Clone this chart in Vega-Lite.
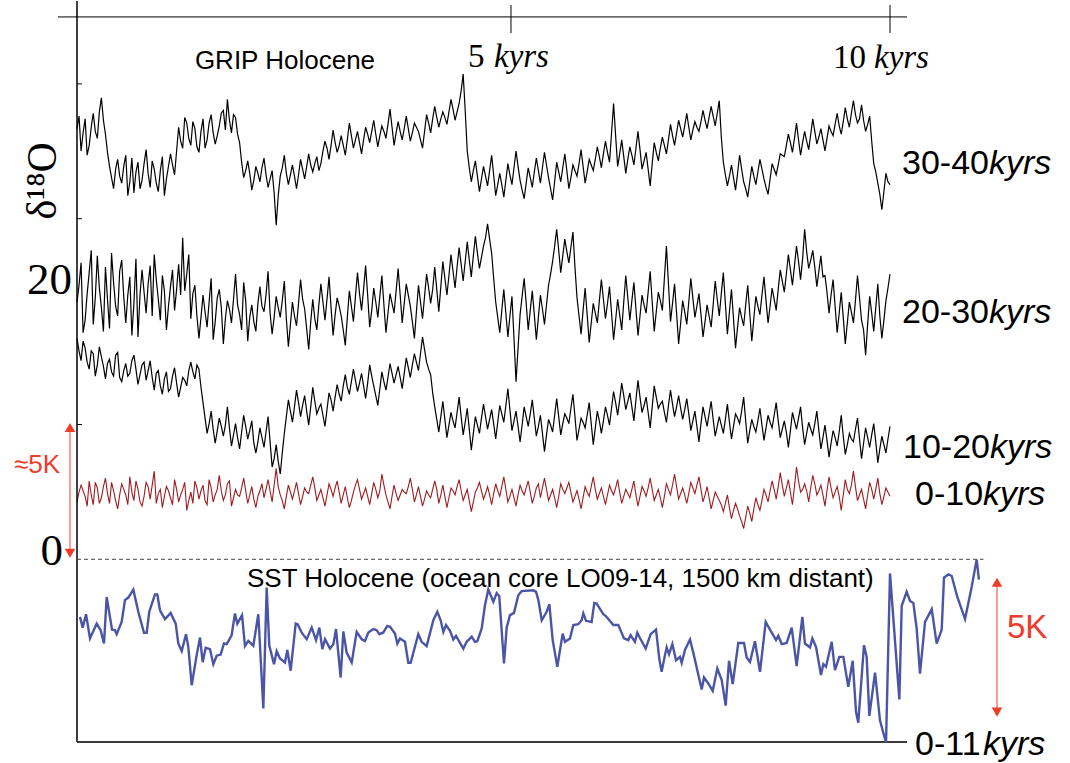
{
"$schema": "https://vega.github.io/schema/vega-lite/v6.json",
"width": 1070, "height": 763, "padding": 0,
"autosize": {"type": "fit", "contains": "padding"},
"background": "white",
"config": {"view": {"stroke": null}, "axis": {"disable": true}},
"datasets": {
"grip": [
{"t":0,"a":30.8,"b":18.4,"c":15.8,"d":4.1},{"t":0.05,"a":29.2,"b":21.2,"c":14.2,"d":5.3},{"t":0.1,"a":31.5,"b":17.1,"c":15.1,"d":4.5},{"t":0.15,"a":29.6,"b":20.5,"c":13.6,"d":5.6},{"t":0.2,"a":31.9,"b":16.8,"c":14.7,"d":3.9},{"t":0.25,"a":30.1,"b":21.7,"c":13.9,"d":5.1},{"t":0.3,"a":33.0,"b":18.0,"c":14.5,"d":4.4},{"t":0.35,"a":30.4,"b":20.9,"c":12.9,"d":5.8},{"t":0.4,"a":28.1,"b":16.5,"c":14.3,"d":4.0},{"t":0.45,"a":26.5,"b":19.8,"c":13.1,"d":4.9},
{"t":0.5,"a":28.6,"b":17.4,"c":14.8,"d":3.6},{"t":0.55,"a":26.9,"b":21.4,"c":12.7,"d":5.4},{"t":0.6,"a":28.9,"b":16.9,"c":14.0,"d":4.6},{"t":0.65,"a":27.0,"b":20.2,"c":13.3,"d":5.9},{"t":0.7,"a":26.2,"b":18.3,"c":14.6,"d":4.2},{"t":0.75,"a":28.4,"b":15.9,"c":12.5,"d":5.0},{"t":0.8,"a":27.1,"b":20.7,"c":13.9,"d":3.8},{"t":0.85,"a":29.3,"b":17.6,"c":12.8,"d":5.5},{"t":0.9,"a":26.6,"b":21.0,"c":14.2,"d":4.3},{"t":0.95,"a":27.9,"b":21.8,"c":12.1,"d":6.3},
{"t":1.0,"a":26.3,"b":18.6,"c":13.5,"d":4.7},{"t":1.05,"a":28.8,"b":20.3,"c":11.8,"d":3.7},{"t":1.1,"a":27.2,"b":16.4,"c":13.4,"d":5.2},{"t":1.15,"a":29.0,"b":19.5,"c":12.2,"d":4.4},{"t":1.2,"a":27.5,"b":17.8,"c":13.7,"d":5.7},{"t":1.25,"a":30.9,"b":21.1,"c":11.6,"d":4.1},{"t":1.3,"a":29.4,"b":23.0,"c":13.0,"d":5.0},{"t":1.35,"a":31.2,"b":20.4,"c":12.4,"d":3.5},{"t":1.4,"a":29.6,"b":17.2,"c":14.1,"d":4.8},{"t":1.45,"a":30.8,"b":19.6,"c":12.9,"d":5.6},
{"t":1.5,"a":29.1,"b":15.8,"c":13.6,"d":4.3},{"t":1.55,"a":31.5,"b":18.9,"c":11.2,"d":5.3},{"t":1.6,"a":30.0,"b":16.6,"c":9.0,"d":3.9},{"t":1.65,"a":31.8,"b":20.1,"c":10.6,"d":5.1},{"t":1.7,"a":29.7,"b":17.0,"c":8.3,"d":4.6},{"t":1.75,"a":31.0,"b":19.3,"c":10.1,"d":6.0},{"t":1.8,"a":32.1,"b":15.4,"c":8.8,"d":4.2},{"t":1.85,"a":32.9,"b":18.5,"c":10.9,"d":5.4},{"t":1.9,"a":30.5,"b":16.9,"c":8.1,"d":3.8},{"t":1.95,"a":31.6,"b":20.4,"c":9.7,"d":5.0},
{"t":2.0,"a":29.8,"b":17.5,"c":7.9,"d":4.5},{"t":2.05,"a":27.3,"b":19.8,"c":10.3,"d":5.8},{"t":2.1,"a":28.5,"b":15.6,"c":8.6,"d":4.0},{"t":2.15,"a":26.4,"b":18.2,"c":9.9,"d":5.2},{"t":2.2,"a":28.1,"b":16.3,"c":7.6,"d":3.7},{"t":2.25,"a":27.0,"b":19.5,"c":9.4,"d":4.9},{"t":2.3,"a":28.7,"b":17.7,"c":8.0,"d":4.4},{"t":2.35,"a":26.6,"b":20.6,"c":10.2,"d":5.7},{"t":2.4,"a":27.8,"b":16.1,"c":6.6,"d":4.1},{"t":2.45,"a":23.9,"b":18.8,"c":8.2,"d":6.5},
{"t":2.5,"a":27.4,"b":17.3,"c":6.1,"d":4.6},{"t":2.55,"a":28.9,"b":19.9,"c":9.0,"d":3.6},{"t":2.6,"a":26.8,"b":15.2,"c":11.4,"d":5.3},{"t":2.65,"a":28.2,"b":18.4,"c":9.8,"d":4.3},{"t":2.7,"a":26.5,"b":16.7,"c":12.1,"d":5.5},{"t":2.75,"a":28.6,"b":20.0,"c":10.2,"d":3.9},{"t":2.8,"a":27.2,"b":17.9,"c":11.7,"d":5.1},{"t":2.85,"a":29.0,"b":15.0,"c":9.6,"d":4.7},{"t":2.9,"a":27.7,"b":18.6,"c":12.3,"d":5.9},{"t":2.95,"a":28.8,"b":16.4,"c":10.4,"d":4.2},
{"t":3.0,"a":28.3,"b":19.7,"c":11.1,"d":5.0},{"t":3.05,"a":29.9,"b":17.1,"c":9.5,"d":3.8},{"t":3.1,"a":28.6,"b":20.2,"c":11.9,"d":5.4},{"t":3.15,"a":30.7,"b":16.0,"c":10.6,"d":4.5},{"t":3.2,"a":29.1,"b":18.7,"c":12.5,"d":5.6},{"t":3.25,"a":30.3,"b":17.4,"c":11.3,"d":4.0},{"t":3.3,"a":28.9,"b":15.3,"c":13.2,"d":5.2},{"t":3.35,"a":31.2,"b":19.2,"c":11.8,"d":3.7},{"t":3.4,"a":29.4,"b":17.0,"c":13.6,"d":4.8},{"t":3.45,"a":30.6,"b":20.5,"c":12.0,"d":5.7},
{"t":3.5,"a":29.0,"b":17.8,"c":13.3,"d":4.3},{"t":3.55,"a":30.9,"b":21.0,"c":11.5,"d":5.1},{"t":3.6,"a":29.8,"b":16.6,"c":13.9,"d":3.9},{"t":3.65,"a":31.4,"b":19.4,"c":12.4,"d":5.5},{"t":3.7,"a":29.5,"b":17.3,"c":11.0,"d":4.4},{"t":3.75,"a":31.0,"b":20.3,"c":13.4,"d":6.1},{"t":3.8,"a":30.1,"b":16.2,"c":12.1,"d":4.6},{"t":3.85,"a":32.2,"b":19.0,"c":14.0,"d":3.6},{"t":3.9,"a":29.6,"b":17.6,"c":12.6,"d":5.3},{"t":3.95,"a":31.3,"b":20.8,"c":13.8,"d":4.2},
{"t":4.0,"a":30.0,"b":16.9,"c":12.2,"d":5.0},{"t":4.05,"a":31.7,"b":19.7,"c":14.4,"d":4.7},{"t":4.1,"a":29.9,"b":18.1,"c":13.0,"d":5.8},{"t":4.15,"a":31.2,"b":15.8,"c":14.7,"d":4.1},{"t":4.2,"a":30.6,"b":19.6,"c":13.5,"d":5.2},{"t":4.25,"a":29.4,"b":17.2,"c":15.9,"d":3.8},{"t":4.3,"a":31.8,"b":20.4,"c":14.1,"d":4.9},{"t":4.35,"a":30.5,"b":18.3,"c":13.2,"d":4.4},{"t":4.4,"a":32.4,"b":20.9,"c":10.9,"d":5.6},{"t":4.45,"a":30.9,"b":17.7,"c":9.1,"d":4.0},
{"t":4.5,"a":32.0,"b":21.3,"c":11.3,"d":5.3},{"t":4.55,"a":31.1,"b":18.9,"c":8.7,"d":3.7},{"t":4.6,"a":32.9,"b":21.8,"c":10.5,"d":5.1},{"t":4.65,"a":31.4,"b":19.4,"c":9.4,"d":4.6},{"t":4.7,"a":32.6,"b":22.3,"c":11.6,"d":5.7},{"t":4.75,"a":34.7,"b":19.9,"c":8.9,"d":4.2},{"t":4.8,"a":29.2,"b":22.7,"c":10.8,"d":5.0},{"t":4.85,"a":27.0,"b":20.2,"c":7.8,"d":3.4},{"t":4.9,"a":28.5,"b":23.1,"c":10.2,"d":4.8},{"t":4.95,"a":26.3,"b":20.8,"c":9.0,"d":5.5},
{"t":5.0,"a":28.1,"b":22.4,"c":11.1,"d":4.3},{"t":5.05,"a":26.7,"b":24.0,"c":9.3,"d":5.2},{"t":5.1,"a":28.9,"b":21.9,"c":10.7,"d":3.9},{"t":5.15,"a":26.0,"b":18.4,"c":8.6,"d":5.4},{"t":5.2,"a":27.6,"b":16.2,"c":11.0,"d":4.5},{"t":5.25,"a":25.9,"b":19.3,"c":9.8,"d":5.9},{"t":5.3,"a":28.3,"b":15.9,"c":12.2,"d":4.1},{"t":5.35,"a":26.8,"b":18.8,"c":9.2,"d":5.0},{"t":5.4,"a":29.2,"b":12.7,"c":10.6,"d":3.8},{"t":5.45,"a":27.1,"b":17.5,"c":8.4,"d":5.3},
{"t":5.5,"a":25.8,"b":20.1,"c":10.9,"d":4.6},{"t":5.55,"a":28.0,"b":16.4,"c":9.5,"d":5.6},{"t":5.6,"a":26.6,"b":19.2,"c":11.4,"d":4.0},{"t":5.65,"a":28.7,"b":15.7,"c":8.8,"d":5.1},{"t":5.7,"a":26.9,"b":18.9,"c":10.3,"d":4.4},{"t":5.75,"a":29.1,"b":16.8,"c":7.7,"d":5.8},{"t":5.8,"a":27.3,"b":19.6,"c":10.0,"d":4.2},{"t":5.85,"a":25.7,"b":21.3,"c":9.1,"d":5.0},{"t":5.9,"a":28.4,"b":23.6,"c":11.5,"d":3.7},{"t":5.95,"a":27.0,"b":20.5,"c":8.9,"d":5.4},
{"t":6.0,"a":29.0,"b":22.9,"c":10.4,"d":4.7},{"t":6.05,"a":26.5,"b":21.2,"c":9.7,"d":5.5},{"t":6.1,"a":28.2,"b":23.4,"c":11.8,"d":4.1},{"t":6.15,"a":27.4,"b":18.7,"c":8.5,"d":4.9},{"t":6.2,"a":29.3,"b":16.1,"c":10.1,"d":3.6},{"t":6.25,"a":26.9,"b":19.4,"c":9.4,"d":5.2},{"t":6.3,"a":28.6,"b":15.5,"c":11.2,"d":4.5},{"t":6.35,"a":27.8,"b":18.3,"c":8.2,"d":5.9},{"t":6.4,"a":29.5,"b":16.9,"c":10.6,"d":4.3},{"t":6.45,"a":28.0,"b":20.0,"c":9.0,"d":5.1},
{"t":6.5,"a":29.9,"b":17.2,"c":10.9,"d":3.9},{"t":6.55,"a":28.4,"b":19.5,"c":9.6,"d":5.3},{"t":6.6,"a":32.6,"b":15.7,"c":12.0,"d":4.6},{"t":6.65,"a":28.1,"b":18.6,"c":10.3,"d":5.7},{"t":6.7,"a":30.0,"b":16.4,"c":12.6,"d":4.0},{"t":6.75,"a":27.6,"b":20.3,"c":10.7,"d":5.0},{"t":6.8,"a":29.5,"b":17.1,"c":11.9,"d":4.4},{"t":6.85,"a":28.2,"b":19.8,"c":9.9,"d":5.6},{"t":6.9,"a":30.6,"b":16.0,"c":12.8,"d":3.8},{"t":6.95,"a":27.9,"b":18.9,"c":10.5,"d":5.2},
{"t":7.0,"a":29.1,"b":17.6,"c":11.6,"d":4.5},{"t":7.05,"a":26.7,"b":20.6,"c":9.4,"d":5.8},{"t":7.1,"a":29.8,"b":16.3,"c":12.4,"d":4.2},{"t":7.15,"a":28.5,"b":19.1,"c":10.8,"d":5.0},{"t":7.2,"a":30.2,"b":17.8,"c":11.3,"d":3.7},{"t":7.25,"a":29.0,"b":22.4,"c":9.8,"d":5.4},{"t":7.3,"a":31.1,"b":17.0,"c":12.1,"d":4.6},{"t":7.35,"a":29.6,"b":19.7,"c":10.2,"d":6.1},{"t":7.4,"a":31.4,"b":15.4,"c":11.7,"d":4.3},{"t":7.45,"a":30.2,"b":18.5,"c":10.0,"d":5.1},
{"t":7.5,"a":31.9,"b":16.8,"c":11.5,"d":4.0},{"t":7.55,"a":30.0,"b":20.1,"c":9.2,"d":5.5},{"t":7.6,"a":31.3,"b":17.3,"c":10.6,"d":4.7},{"t":7.65,"a":30.6,"b":19.0,"c":8.4,"d":5.9},{"t":7.7,"a":32.1,"b":15.9,"c":10.9,"d":4.1},{"t":7.75,"a":30.8,"b":18.2,"c":9.5,"d":5.2},{"t":7.8,"a":32.4,"b":16.6,"c":11.3,"d":3.6},{"t":7.85,"a":31.0,"b":19.9,"c":8.8,"d":4.8},{"t":7.9,"a":32.8,"b":17.4,"c":10.2,"d":4.2},{"t":7.95,"a":28.4,"b":20.5,"c":9.0,"d":3.4},
{"t":8.0,"a":26.7,"b":16.1,"c":11.1,"d":4.6},{"t":8.05,"a":28.2,"b":19.3,"c":8.6,"d":2.9},{"t":8.1,"a":26.4,"b":15.1,"c":10.4,"d":4.0},{"t":8.15,"a":28.9,"b":18.0,"c":9.7,"d":3.1},{"t":8.2,"a":27.0,"b":16.7,"c":11.6,"d":2.2},{"t":8.25,"a":25.9,"b":19.6,"c":8.3,"d":3.8},{"t":8.3,"a":28.1,"b":15.6,"c":10.0,"d":2.7},{"t":8.35,"a":26.8,"b":18.8,"c":9.1,"d":4.4},{"t":8.4,"a":28.6,"b":17.5,"c":10.8,"d":3.5},{"t":8.45,"a":27.2,"b":20.2,"c":8.5,"d":5.0},
{"t":8.5,"a":26.1,"b":16.9,"c":10.3,"d":4.1},{"t":8.55,"a":28.3,"b":19.4,"c":9.4,"d":5.6},{"t":8.6,"a":27.5,"b":17.8,"c":11.2,"d":4.3},{"t":8.65,"a":29.0,"b":20.7,"c":8.7,"d":6.2},{"t":8.7,"a":28.8,"b":19.1,"c":9.9,"d":4.5},{"t":8.75,"a":30.4,"b":21.8,"c":8.0,"d":5.7},{"t":8.8,"a":29.1,"b":19.6,"c":10.5,"d":3.9},{"t":8.85,"a":31.2,"b":22.4,"c":9.3,"d":6.6},{"t":8.9,"a":28.9,"b":20.0,"c":10.9,"d":4.8},{"t":8.95,"a":30.6,"b":23.6,"c":8.2,"d":5.4},
{"t":9.0,"a":29.3,"b":20.8,"c":9.8,"d":4.1},{"t":9.05,"a":31.5,"b":22.1,"c":8.9,"d":6.0},{"t":9.1,"a":29.7,"b":19.5,"c":10.6,"d":4.6},{"t":9.15,"a":30.8,"b":21.7,"c":7.9,"d":5.3},{"t":9.2,"a":29.2,"b":20.3,"c":9.6,"d":3.8},{"t":9.25,"a":31.0,"b":17.6,"c":7.3,"d":5.9},{"t":9.3,"a":30.3,"b":20.0,"c":9.2,"d":4.4},{"t":9.35,"a":31.9,"b":16.2,"c":8.1,"d":5.2},{"t":9.4,"a":30.4,"b":19.1,"c":10.3,"d":3.5},{"t":9.45,"a":32.3,"b":15.4,"c":7.5,"d":5.7},
{"t":9.5,"a":30.9,"b":18.4,"c":9.0,"d":4.7},{"t":9.55,"a":32.8,"b":16.9,"c":8.4,"d":6.3},{"t":9.6,"a":31.2,"b":20.3,"c":10.1,"d":4.2},{"t":9.65,"a":32.5,"b":17.1,"c":7.2,"d":5.0},{"t":9.7,"a":30.6,"b":14.6,"c":9.4,"d":3.6},{"t":9.75,"a":31.7,"b":18.8,"c":8.0,"d":5.5},{"t":9.8,"a":28.3,"b":16.3,"c":9.7,"d":4.3},{"t":9.85,"a":26.9,"b":19.7,"c":6.9,"d":5.8},{"t":9.9,"a":25.0,"b":15.8,"c":8.8,"d":3.9},{"t":9.95,"a":27.6,"b":18.5,"c":7.6,"d":5.1},
{"t":10.0,"a":26.8,"b":20.4,"c":9.5,"d":4.5},
{"t":0.025,"a":31.7,"b":19.6,"c":14.9,"d":4.8},{"t":0.075,"a":30.5,"b":16.2,"c":15.6,"d":4.9},{"t":0.125,"a":28.9,"b":19.0,"c":14.1,"d":3.8},{"t":0.175,"a":30.9,"b":22.1,"c":14.9,"d":4.6},{"t":0.225,"a":30.6,"b":18.7,"c":13.1,"d":5.5},{"t":0.275,"a":32.0,"b":19.4,"c":15.2,"d":4.0},{"t":0.325,"a":31.4,"b":16.3,"c":13.8,"d":5.2},{"t":0.375,"a":29.1,"b":18.6,"c":14.0,"d":4.7},{"t":0.425,"a":27.3,"b":21.9,"c":13.4,"d":5.5},{"t":0.475,"a":27.9,"b":18.1,"c":14.6,"d":4.2},
{"t":0.525,"a":27.4,"b":20.6,"c":13.0,"d":4.6},{"t":0.575,"a":28.1,"b":18.8,"c":13.5,"d":5.0},{"t":0.625,"a":26.0,"b":18.9,"c":13.1,"d":3.9},{"t":0.675,"a":28.7,"b":16.0,"c":14.2,"d":4.8},{"t":0.725,"a":27.7,"b":21.5,"c":13.6,"d":5.6},{"t":0.775,"a":26.5,"b":18.9,"c":13.2,"d":4.1},{"t":0.825,"a":28.3,"b":19.1,"c":14.1,"d":4.5},{"t":0.875,"a":27.6,"b":19.7,"c":13.5,"d":5.2},{"t":0.925,"a":28.5,"b":17.4,"c":13.0,"d":5.3},{"t":0.975,"a":26.9,"b":20.0,"c":13.3,"d":4.0},
{"t":1.025,"a":27.8,"b":17.1,"c":12.4,"d":5.0},{"t":1.075,"a":26.0,"b":19.2,"c":12.9,"d":4.5},{"t":1.125,"a":28.1,"b":18.1,"c":12.0,"d":4.9},{"t":1.175,"a":28.2,"b":20.7,"c":13.1,"d":3.9},{"t":1.225,"a":29.2,"b":19.3,"c":12.6,"d":5.0},{"t":1.275,"a":29.9,"b":18.9,"c":12.3,"d":4.6},{"t":1.325,"a":31.6,"b":19.2,"c":12.8,"d":5.5},{"t":1.375,"a":30.1,"b":21.8,"c":13.5,"d":4.2},{"t":1.425,"a":31.3,"b":19.0,"c":13.4,"d":4.0},{"t":1.475,"a":29.5,"b":17.4,"c":13.9,"d":5.1},
{"t":1.525,"a":30.6,"b":17.3,"c":12.3,"d":4.9},{"t":1.575,"a":29.4,"b":17.7,"c":10.1,"d":4.2},{"t":1.625,"a":31.2,"b":18.4,"c":9.7,"d":5.7},{"t":1.675,"a":30.5,"b":15.7,"c":9.3,"d":4.1},{"t":1.725,"a":30.3,"b":18.7,"c":9.2,"d":5.0},{"t":1.775,"a":31.9,"b":18.0,"c":9.5,"d":4.9},{"t":1.825,"a":30.7,"b":17.2,"c":9.6,"d":4.6},{"t":1.875,"a":31.4,"b":17.9,"c":9.4,"d":5.6},{"t":1.925,"a":31.8,"b":18.6,"c":8.9,"d":4.4},{"t":1.975,"a":30.4,"b":18.2,"c":8.7,"d":4.6},
{"t":2.025,"a":28.4,"b":16.4,"c":9.1,"d":5.1},{"t":2.075,"a":27.8,"b":18.5,"c":9.5,"d":4.9},{"t":2.125,"a":27.6,"b":17.3,"c":9.2,"d":4.6},{"t":2.175,"a":27.1,"b":17.0,"c":8.3,"d":4.3},{"t":2.225,"a":27.6,"b":18.3,"c":8.4,"d":4.5},{"t":2.275,"a":28.0,"b":18.1,"c":8.7,"d":5.4},{"t":2.325,"a":27.5,"b":18.9,"c":9.1,"d":5.0},{"t":2.375,"a":27.2,"b":17.6,"c":8.4,"d":4.9},{"t":2.425,"a":26.2,"b":17.3,"c":7.2,"d":5.3},{"t":2.475,"a":26.0,"b":18.0,"c":7.0,"d":5.2},
{"t":2.525,"a":28.0,"b":18.5,"c":7.6,"d":4.2},{"t":2.575,"a":27.6,"b":17.2,"c":10.2,"d":4.5},{"t":2.625,"a":27.5,"b":16.8,"c":10.6,"d":4.8},{"t":2.675,"a":27.4,"b":17.4,"c":10.9,"d":4.9},{"t":2.725,"a":27.5,"b":18.3,"c":11.2,"d":4.7},{"t":2.775,"a":27.9,"b":18.6,"c":11.0,"d":4.5},{"t":2.825,"a":28.1,"b":16.5,"c":10.6,"d":4.8},{"t":2.875,"a":28.2,"b":17.0,"c":10.9,"d":5.3},{"t":2.925,"a":28.3,"b":17.2,"c":11.3,"d":5.1},{"t":2.975,"a":27.8,"b":18.2,"c":10.8,"d":4.6},
{"t":3.025,"a":29.2,"b":18.4,"c":10.3,"d":4.4},{"t":3.075,"a":29.4,"b":18.6,"c":10.7,"d":4.6},{"t":3.125,"a":29.6,"b":18.0,"c":11.4,"d":5.0},{"t":3.175,"a":29.8,"b":17.5,"c":11.6,"d":5.1},{"t":3.225,"a":29.6,"b":18.1,"c":11.8,"d":4.8},{"t":3.275,"a":29.6,"b":16.4,"c":12.4,"d":4.6},{"t":3.325,"a":30.0,"b":17.3,"c":12.3,"d":4.4},{"t":3.375,"a":30.3,"b":18.1,"c":12.7,"d":4.2},{"t":3.425,"a":30.0,"b":18.8,"c":12.8,"d":5.3},{"t":3.475,"a":29.8,"b":19.0,"c":12.6,"d":5.0},
{"t":3.525,"a":30.0,"b":19.3,"c":12.4,"d":4.7},{"t":3.575,"a":30.4,"b":18.9,"c":12.6,"d":4.5},{"t":3.625,"a":30.6,"b":17.8,"c":13.1,"d":4.7},{"t":3.675,"a":30.4,"b":18.4,"c":11.7,"d":5.0},{"t":3.725,"a":30.3,"b":18.8,"c":12.2,"d":4.9},{"t":3.775,"a":30.6,"b":18.2,"c":12.7,"d":5.3},{"t":3.825,"a":31.1,"b":17.6,"c":13.0,"d":4.1},{"t":3.875,"a":30.9,"b":18.3,"c":13.3,"d":4.5},{"t":3.925,"a":30.5,"b":19.2,"c":13.2,"d":4.7},{"t":3.975,"a":30.6,"b":18.9,"c":13.0,"d":4.6},
{"t":4.025,"a":30.8,"b":18.3,"c":13.3,"d":4.8},{"t":4.075,"a":30.8,"b":18.9,"c":13.7,"d":5.2},{"t":4.125,"a":30.5,"b":17.0,"c":13.9,"d":5.0},{"t":4.175,"a":30.9,"b":17.7,"c":14.1,"d":4.6},{"t":4.225,"a":30.0,"b":18.4,"c":14.7,"d":4.5},{"t":4.275,"a":30.6,"b":18.8,"c":15.0,"d":4.3},{"t":4.325,"a":31.2,"b":19.4,"c":13.6,"d":4.6},{"t":4.375,"a":31.5,"b":19.3,"c":11.9,"d":5.0},{"t":4.425,"a":31.6,"b":19.3,"c":10.0,"d":5.0},{"t":4.475,"a":31.5,"b":19.5,"c":10.2,"d":4.6},
{"t":4.525,"a":31.6,"b":20.1,"c":10.0,"d":4.5},{"t":4.575,"a":32.0,"b":20.3,"c":9.6,"d":4.4},{"t":4.625,"a":32.2,"b":20.6,"c":9.9,"d":4.9},{"t":4.675,"a":32.0,"b":20.9,"c":10.5,"d":5.2},{"t":4.725,"a":33.5,"b":21.1,"c":10.2,"d":4.9},{"t":4.775,"a":32.1,"b":21.3,"c":9.8,"d":4.6},{"t":4.825,"a":28.0,"b":21.4,"c":9.3,"d":4.2},{"t":4.875,"a":27.8,"b":21.7,"c":9.0,"d":4.1},{"t":4.925,"a":27.4,"b":21.9,"c":9.6,"d":5.1},{"t":4.975,"a":27.2,"b":21.6,"c":10.1,"d":4.9},
{"t":5.025,"a":27.4,"b":23.0,"c":10.2,"d":4.7},{"t":5.075,"a":27.8,"b":22.9,"c":10.0,"d":4.6},{"t":5.125,"a":27.5,"b":20.1,"c":9.7,"d":4.7},{"t":5.175,"a":26.8,"b":17.3,"c":9.8,"d":4.9},{"t":5.225,"a":26.8,"b":17.8,"c":10.4,"d":5.2},{"t":5.275,"a":27.1,"b":17.6,"c":11.0,"d":5.0},{"t":5.325,"a":27.5,"b":17.4,"c":10.7,"d":4.5},{"t":5.375,"a":28.0,"b":15.8,"c":9.9,"d":4.4},{"t":5.425,"a":28.1,"b":15.1,"c":9.5,"d":4.6},{"t":5.475,"a":26.4,"b":18.8,"c":9.6,"d":4.9},
{"t":5.525,"a":26.9,"b":18.3,"c":10.2,"d":5.1},{"t":5.575,"a":27.3,"b":17.8,"c":10.4,"d":4.8},{"t":5.625,"a":27.7,"b":17.5,"c":10.1,"d":4.5},{"t":5.675,"a":27.8,"b":17.3,"c":9.5,"d":5.4},{"t":5.725,"a":28.0,"b":17.9,"c":9.0,"d":5.1},{"t":5.775,"a":28.2,"b":18.2,"c":8.9,"d":5.0},{"t":5.825,"a":26.5,"b":20.4,"c":9.6,"d":4.6},{"t":5.875,"a":27.0,"b":22.4,"c":10.3,"d":4.4},{"t":5.925,"a":27.7,"b":22.1,"c":10.2,"d":4.5},{"t":5.975,"a":28.0,"b":21.7,"c":9.7,"d":5.0},
{"t":6.025,"a":27.8,"b":22.0,"c":10.1,"d":5.1},{"t":6.075,"a":27.3,"b":22.3,"c":10.8,"d":4.8},{"t":6.125,"a":27.8,"b":20.9,"c":10.2,"d":4.5},{"t":6.175,"a":28.3,"b":17.4,"c":9.3,"d":4.3},{"t":6.225,"a":28.1,"b":17.8,"c":9.8,"d":4.4},{"t":6.275,"a":27.7,"b":17.5,"c":10.3,"d":4.8},{"t":6.325,"a":28.2,"b":16.9,"c":9.7,"d":5.2},{"t":6.375,"a":28.6,"b":17.6,"c":9.4,"d":5.0},{"t":6.425,"a":28.8,"b":18.5,"c":9.9,"d":4.7},{"t":6.475,"a":29.0,"b":18.6,"c":9.9,"d":4.5},
{"t":6.525,"a":29.1,"b":18.3,"c":10.3,"d":4.6},{"t":6.575,"a":30.5,"b":17.6,"c":10.8,"d":4.9},{"t":6.625,"a":30.3,"b":17.1,"c":11.2,"d":5.1},{"t":6.675,"a":29.0,"b":17.5,"c":11.4,"d":4.8},{"t":6.725,"a":28.8,"b":18.4,"c":11.7,"d":4.5},{"t":6.775,"a":28.6,"b":18.7,"c":11.3,"d":4.7},{"t":6.825,"a":28.9,"b":18.5,"c":10.9,"d":5.0},{"t":6.875,"a":29.4,"b":17.9,"c":11.4,"d":4.6},{"t":6.925,"a":29.3,"b":17.4,"c":11.6,"d":4.5},{"t":6.975,"a":28.5,"b":18.2,"c":11.0,"d":4.9},
{"t":7.025,"a":27.9,"b":19.1,"c":10.5,"d":5.1},{"t":7.075,"a":28.3,"b":18.4,"c":10.9,"d":5.0},{"t":7.125,"a":29.1,"b":17.7,"c":11.6,"d":4.6},{"t":7.175,"a":29.4,"b":18.5,"c":11.1,"d":4.4},{"t":7.225,"a":29.6,"b":20.1,"c":10.5,"d":4.5},{"t":7.275,"a":30.0,"b":19.7,"c":11.0,"d":5.0},{"t":7.325,"a":30.3,"b":18.3,"c":11.1,"d":5.3},{"t":7.375,"a":30.5,"b":17.6,"c":10.9,"d":5.2},{"t":7.425,"a":30.8,"b":16.9,"c":10.8,"d":4.7},{"t":7.475,"a":31.0,"b":17.7,"c":10.7,"d":4.6},
{"t":7.525,"a":30.9,"b":18.4,"c":10.4,"d":4.7},{"t":7.575,"a":30.7,"b":18.7,"c":9.9,"d":5.1},{"t":7.625,"a":30.9,"b":18.1,"c":9.5,"d":5.3},{"t":7.675,"a":31.3,"b":17.5,"c":9.7,"d":5.0},{"t":7.725,"a":31.4,"b":17.0,"c":10.2,"d":4.6},{"t":7.775,"a":31.6,"b":17.4,"c":10.4,"d":4.4},{"t":7.825,"a":31.7,"b":18.2,"c":10.0,"d":4.2},{"t":7.875,"a":31.9,"b":18.6,"c":9.5,"d":4.5},{"t":7.925,"a":30.2,"b":19.0,"c":9.6,"d":3.9},{"t":7.975,"a":27.5,"b":18.3,"c":10.0,"d":4.0},
{"t":8.025,"a":27.4,"b":17.7,"c":9.8,"d":3.7},{"t":8.075,"a":27.3,"b":17.2,"c":9.5,"d":3.5},{"t":8.125,"a":27.6,"b":16.6,"c":10.1,"d":3.6},{"t":8.175,"a":27.9,"b":17.3,"c":10.6,"d":2.7},{"t":8.225,"a":26.5,"b":18.2,"c":9.9,"d":3.0},{"t":8.275,"a":27.0,"b":17.6,"c":9.2,"d":3.3},{"t":8.325,"a":27.4,"b":17.2,"c":9.5,"d":3.6},{"t":8.375,"a":27.7,"b":18.1,"c":9.9,"d":3.9},{"t":8.425,"a":27.9,"b":18.9,"c":9.6,"d":4.2},{"t":8.475,"a":26.6,"b":18.5,"c":9.4,"d":4.6},
{"t":8.525,"a":27.2,"b":18.1,"c":9.8,"d":4.9},{"t":8.575,"a":27.9,"b":18.6,"c":10.3,"d":5.0},{"t":8.625,"a":28.2,"b":19.3,"c":9.9,"d":5.2},{"t":8.675,"a":28.9,"b":19.9,"c":9.3,"d":5.3},{"t":8.725,"a":29.6,"b":20.4,"c":9.1,"d":5.1},{"t":8.775,"a":29.8,"b":20.7,"c":9.2,"d":4.8},{"t":8.825,"a":30.1,"b":21.0,"c":9.9,"d":5.2},{"t":8.875,"a":30.0,"b":21.3,"c":10.1,"d":5.6},{"t":8.925,"a":29.8,"b":21.5,"c":9.4,"d":5.0},{"t":8.975,"a":29.9,"b":22.0,"c":9.0,"d":4.9},
{"t":9.025,"a":30.4,"b":21.4,"c":9.3,"d":5.1},{"t":9.075,"a":30.6,"b":20.9,"c":9.7,"d":5.4},{"t":9.125,"a":30.2,"b":20.6,"c":9.2,"d":4.9},{"t":9.175,"a":30.0,"b":20.2,"c":8.7,"d":4.6},{"t":9.225,"a":30.1,"b":19.1,"c":8.5,"d":4.9},{"t":9.275,"a":30.6,"b":18.9,"c":8.3,"d":5.1},{"t":9.325,"a":31.1,"b":18.1,"c":8.7,"d":4.8},{"t":9.375,"a":31.0,"b":17.6,"c":9.1,"d":4.5},{"t":9.425,"a":31.3,"b":17.3,"c":8.8,"d":4.6},{"t":9.475,"a":31.5,"b":16.9,"c":8.2,"d":5.0},
{"t":9.525,"a":31.9,"b":17.7,"c":8.6,"d":5.3},{"t":9.575,"a":31.8,"b":18.5,"c":9.3,"d":5.2},{"t":9.625,"a":31.5,"b":18.7,"c":8.6,"d":4.6},{"t":9.675,"a":31.4,"b":16.4,"c":8.3,"d":4.3},{"t":9.725,"a":31.1,"b":16.8,"c":8.7,"d":4.6},{"t":9.775,"a":29.9,"b":17.6,"c":8.9,"d":5.0},{"t":9.825,"a":27.7,"b":18.0,"c":8.4,"d":5.0},{"t":9.875,"a":26.1,"b":17.4,"c":7.9,"d":4.7},{"t":9.925,"a":26.3,"b":17.1,"c":8.2,"d":4.5},{"t":9.975,"a":27.0,"b":19.4,"c":8.6,"d":4.8}
],
"sst": [
{"t":0.037,"k":-2.03},{"t":0.070,"k":-2.41},{"t":0.111,"k":-1.94},{"t":0.160,"k":-2.79},{"t":0.242,"k":-2.27},{"t":0.291,"k":-2.50},{"t":0.332,"k":-2.97},{"t":0.365,"k":-1.33},{"t":0.431,"k":-2.48},{"t":0.467,"k":-2.50},
{"t":0.488,"k":-2.64},{"t":0.549,"k":-2.21},{"t":0.590,"k":-1.44},{"t":0.631,"k":-1.35},{"t":0.693,"k":-1.07},{"t":0.754,"k":-1.85},{"t":0.824,"k":-2.59},{"t":0.857,"k":-2.59},{"t":0.889,"k":-1.85},{"t":0.959,"k":-1.24},
{"t":0.988,"k":-1.24},{"t":1.021,"k":-1.80},{"t":1.082,"k":-2.11},{"t":1.152,"k":-1.89},{"t":1.214,"k":-2.27},{"t":1.246,"k":-2.97},{"t":1.288,"k":-3.24},{"t":1.341,"k":-2.64},{"t":1.369,"k":-3.09},{"t":1.411,"k":-4.44},
{"t":1.472,"k":-3.38},{"t":1.513,"k":-2.76},{"t":1.546,"k":-3.63},{"t":1.583,"k":-3.12},{"t":1.636,"k":-3.17},{"t":1.677,"k":-3.70},{"t":1.718,"k":-3.40},{"t":1.767,"k":-3.36},{"t":1.808,"k":-2.97},{"t":1.841,"k":-2.99},
{"t":1.902,"k":-2.68},{"t":1.943,"k":-1.91},{"t":1.972,"k":-2.27},{"t":2.030,"k":-1.97},{"t":2.066,"k":-3.06},{"t":2.107,"k":-2.88},{"t":2.169,"k":-3.05},{"t":2.230,"k":-1.94},{"t":2.292,"k":-5.26},{"t":2.333,"k":-1.00},
{"t":2.365,"k":-3.03},{"t":2.423,"k":-3.70},{"t":2.456,"k":-3.24},{"t":2.497,"k":-3.50},{"t":2.558,"k":-3.64},{"t":2.587,"k":-3.20},{"t":2.628,"k":-3.93},{"t":2.690,"k":-2.27},{"t":2.714,"k":-2.29},{"t":2.764,"k":-2.59},
{"t":2.825,"k":-2.82},{"t":2.887,"k":-2.41},{"t":2.940,"k":-2.85},{"t":2.981,"k":-2.41},{"t":3.018,"k":-3.17},{"t":3.051,"k":-2.82},{"t":3.112,"k":-3.15},{"t":3.153,"k":-3.00},{"t":3.186,"k":-2.46},{"t":3.243,"k":-4.17},
{"t":3.276,"k":-2.54},{"t":3.317,"k":-3.29},{"t":3.379,"k":-3.64},{"t":3.440,"k":-2.56},{"t":3.502,"k":-2.82},{"t":3.542,"k":-2.88},{"t":3.583,"k":-2.58},{"t":3.645,"k":-2.46},{"t":3.686,"k":-2.50},{"t":3.719,"k":-2.64},
{"t":3.768,"k":-2.58},{"t":3.817,"k":-2.35},{"t":3.850,"k":-2.38},{"t":3.911,"k":-2.62},{"t":3.940,"k":-2.97},{"t":3.973,"k":-2.79},{"t":4.034,"k":-2.91},{"t":4.075,"k":-3.65},{"t":4.104,"k":-3.65},{"t":4.198,"k":-2.64},
{"t":4.239,"k":-2.91},{"t":4.301,"k":-3.06},{"t":4.383,"k":-2.15},{"t":4.432,"k":-1.85},{"t":4.473,"k":-2.15},{"t":4.506,"k":-2.56},{"t":4.539,"k":-2.32},{"t":4.588,"k":-2.52},{"t":4.629,"k":-2.83},{"t":4.662,"k":-2.70},
{"t":4.752,"k":-3.15},{"t":4.793,"k":-2.91},{"t":4.855,"k":-2.73},{"t":4.895,"k":-2.91},{"t":4.924,"k":-2.89},{"t":4.978,"k":-2.44},{"t":5.018,"k":-1.62},{"t":5.059,"k":-1.07},{"t":5.121,"k":-1.50},{"t":5.162,"k":-1.19},
{"t":5.194,"k":-1.30},{"t":5.252,"k":-3.67},{"t":5.285,"k":-2.41},{"t":5.326,"k":-1.97},{"t":5.375,"k":-1.89},{"t":5.428,"k":-1.27},{"t":5.470,"k":-1.12},{"t":5.613,"k":-1.09},{"t":5.646,"k":-1.15},{"t":5.675,"k":-1.44},
{"t":5.716,"k":-2.15},{"t":5.777,"k":-1.85},{"t":5.810,"k":-1.58},{"t":5.851,"k":-2.85},{"t":5.908,"k":-3.79},{"t":5.974,"k":-2.62},{"t":6.002,"k":-2.91},{"t":6.064,"k":-2.79},{"t":6.105,"k":-2.32},{"t":6.166,"k":-2.29},
{"t":6.207,"k":-2.15},{"t":6.228,"k":-1.91},{"t":6.261,"k":-2.17},{"t":6.330,"k":-2.21},{"t":6.363,"k":-1.54},{"t":6.392,"k":-1.56},{"t":6.474,"k":-1.94},{"t":6.507,"k":-2.01},{"t":6.597,"k":-2.32},{"t":6.658,"k":-2.32},
{"t":6.728,"k":-2.79},{"t":6.781,"k":-2.85},{"t":6.810,"k":-2.68},{"t":6.863,"k":-2.91},{"t":6.892,"k":-2.59},{"t":6.916,"k":-2.73},{"t":6.995,"k":-3.15},{"t":7.056,"k":-2.64},{"t":7.122,"k":-2.48},{"t":7.162,"k":-3.50},
{"t":7.191,"k":-3.97},{"t":7.232,"k":-3.38},{"t":7.253,"k":-3.11},{"t":7.282,"k":-3.35},{"t":7.323,"k":-2.99},{"t":7.368,"k":-3.56},{"t":7.417,"k":-3.44},{"t":7.438,"k":-3.65},{"t":7.478,"k":-3.20},{"t":7.540,"k":-2.83},
{"t":7.581,"k":-3.30},{"t":7.684,"k":-4.59},{"t":7.712,"k":-4.17},{"t":7.765,"k":-4.38},{"t":7.819,"k":-4.64},{"t":7.876,"k":-3.85},{"t":7.930,"k":-4.26},{"t":7.979,"k":-5.16},{"t":8.020,"k":-3.58},{"t":8.065,"k":-4.40},
{"t":8.134,"k":-2.95},{"t":8.204,"k":-2.95},{"t":8.237,"k":-3.46},{"t":8.278,"k":-3.62},{"t":8.339,"k":-2.89},{"t":8.401,"k":-3.97},{"t":8.471,"k":-2.21},{"t":8.524,"k":-2.48},{"t":8.598,"k":-2.85},{"t":8.626,"k":-2.70},
{"t":8.668,"k":-2.99},{"t":8.729,"k":-2.95},{"t":8.791,"k":-2.41},{"t":8.852,"k":-3.77},{"t":8.922,"k":-2.03},{"t":8.954,"k":-2.97},{"t":9.016,"k":-3.11},{"t":9.045,"k":-2.79},{"t":9.090,"k":-3.09},{"t":9.151,"k":-4.08},
{"t":9.180,"k":-3.70},{"t":9.213,"k":-3.79},{"t":9.283,"k":-2.91},{"t":9.323,"k":-3.91},{"t":9.377,"k":-3.44},{"t":9.426,"k":-3.44},{"t":9.487,"k":-4.50},{"t":9.541,"k":-3.58},{"t":9.582,"k":-5.38},{"t":9.610,"k":-5.76},
{"t":9.680,"k":-3.03},{"t":9.713,"k":-3.44},{"t":9.746,"k":-5.52},{"t":9.816,"k":-4.00},{"t":9.877,"k":-5.69},{"t":9.951,"k":-6.47},{"t":10.000,"k":-0.50},{"t":10.115,"k":-4.94},{"t":10.144,"k":-1.64},{"t":10.205,"k":-1.15},
{"t":10.246,"k":-1.47},{"t":10.287,"k":-1.54},{"t":10.328,"k":-2.44},{"t":10.369,"k":-4.03},{"t":10.431,"k":-2.21},{"t":10.513,"k":-1.76},{"t":10.574,"k":-2.97},{"t":10.636,"k":-2.48},{"t":10.664,"k":-0.65},{"t":10.718,"k":-0.53},
{"t":10.759,"k":-0.59},{"t":10.828,"k":-1.33},{"t":10.923,"k":-2.11},{"t":11.005,"k":-0.97},{"t":11.066,"k":-0.01},{"t":11.094,"k":-0.72}
]
},
"layer": [
{
"layer": [
{"data": {"name": "grip"}, "mark": {"type": "line", "color": "black", "strokeWidth": 1.2},
 "encoding": {"x": {"field": "t", "type": "quantitative", "scale": {"domain": [-0.9471, 12.214], "nice": false, "zero": false}, "axis": null},
  "y": {"field": "a", "type": "quantitative", "scale": {"domain": [-14.571, 39.929], "nice": false, "zero": false}, "axis": null}}},
{"data": {"name": "grip"}, "mark": {"type": "line", "color": "black", "strokeWidth": 1.2},
 "encoding": {"x": {"field": "t", "type": "quantitative", "axis": null}, "y": {"field": "b", "type": "quantitative", "axis": null}}},
{"data": {"name": "grip"}, "mark": {"type": "line", "color": "black", "strokeWidth": 1.2},
 "encoding": {"x": {"field": "t", "type": "quantitative", "axis": null}, "y": {"field": "c", "type": "quantitative", "axis": null}}},
{"data": {"name": "grip"}, "mark": {"type": "line", "color": "#9e1b20", "strokeWidth": 1.1},
 "encoding": {"x": {"field": "t", "type": "quantitative", "axis": null}, "y": {"field": "d", "type": "quantitative", "axis": null}}},
{"data": {"values": [{}]}, "mark": {"type": "rule", "color": "black", "strokeWidth": 1},
 "encoding": {"x": {"datum": -0.234}, "x2": {"datum": 10.209}, "y": {"datum": 38.79}}},
{"data": {"values": [{}]}, "mark": {"type": "rule", "color": "black", "strokeWidth": 1},
 "encoding": {"x": {"datum": 5.338}, "y": {"datum": 39.64}, "y2": {"datum": 37.64}}},
{"data": {"values": [{}]}, "mark": {"type": "rule", "color": "black", "strokeWidth": 1},
 "encoding": {"x": {"datum": 10.0}, "y": {"datum": 39.64}, "y2": {"datum": 37.64}}},
{"data": {"values": [{}]}, "mark": {"type": "rule", "color": "black", "strokeWidth": 1.5},
 "encoding": {"x": {"datum": 0}, "y": {"datum": 39.929}, "y2": {"datum": -13.07}}},
{"data": {"values": [{}]}, "mark": {"type": "rule", "color": "#3a3a3a", "strokeWidth": 2},
 "encoding": {"x": {"datum": 0}, "x2": {"datum": 10.209}, "y": {"datum": -13.07}}},
{"data": {"values": [{}]}, "mark": {"type": "rule", "color": "#444444", "strokeWidth": 1, "strokeDash": [4, 3]},
 "encoding": {"x": {"datum": 0}, "x2": {"datum": 11.15}, "y": {"datum": 0}}},
{"data": {"values": [{"v": 34.0}, {"v": 24.36}, {"v": 9.64}]}, "mark": {"type": "rule", "color": "black", "strokeWidth": 1},
 "encoding": {"x": {"datum": 0}, "x2": {"datum": 0.06}, "y": {"field": "v", "type": "quantitative", "axis": null}}},
{"data": {"values": [{}]}, "mark": {"type": "rule", "color": "#f4806f", "strokeWidth": 1.5},
 "encoding": {"x": {"datum": -0.0861}, "y": {"datum": 9.43}, "y2": {"datum": 0.43}}},
{"data": {"values": [{}]}, "mark": {"type": "point", "shape": "triangle-up", "filled": true, "size": 110, "color": "#ef3b25", "opacity": 1},
 "encoding": {"x": {"datum": -0.0861}, "y": {"datum": 9.43}}},
{"data": {"values": [{}]}, "mark": {"type": "point", "shape": "triangle-down", "filled": true, "size": 110, "color": "#ef3b25", "opacity": 1},
 "encoding": {"x": {"datum": -0.0861}, "y": {"datum": 0.43}}},
{"data": {"values": [{}]}, "mark": {"type": "rule", "color": "#f4806f", "strokeWidth": 1.5},
 "encoding": {"x": {"datum": 11.316}, "y": {"datum": -1.64}, "y2": {"datum": -10.93}}},
{"data": {"values": [{}]}, "mark": {"type": "point", "shape": "triangle-up", "filled": true, "size": 110, "color": "#ef3b25", "opacity": 1},
 "encoding": {"x": {"datum": 11.316}, "y": {"datum": -1.64}}},
{"data": {"values": [{}]}, "mark": {"type": "point", "shape": "triangle-down", "filled": true, "size": 110, "color": "#ef3b25", "opacity": 1},
 "encoding": {"x": {"datum": 11.316}, "y": {"datum": -10.93}}},
{"data": {"values": [{}]}, "mark": {"type": "text", "text": "GRIP Holocene", "font": "Liberation Sans", "fontSize": 26, "align": "center", "baseline": "alphabetic", "color": "black"},
 "encoding": {"x": {"datum": 2.558}, "y": {"datum": 35.07}}},
{"data": {"values": [{}]}, "mark": {"type": "text", "text": "5", "font": "Liberation Serif", "fontSize": 33, "align": "left", "baseline": "alphabetic", "color": "black"},
 "encoding": {"x": {"datum": 4.809}, "y": {"datum": 35.21}}},
{"data": {"values": [{}]}, "mark": {"type": "text", "text": "kyrs", "font": "Liberation Serif", "fontStyle": "italic", "fontSize": 33, "align": "left", "baseline": "alphabetic", "color": "black"},
 "encoding": {"x": {"datum": 5.129}, "y": {"datum": 35.21}}},
{"data": {"values": [{}]}, "mark": {"type": "text", "text": "10", "font": "Liberation Serif", "fontSize": 33, "align": "left", "baseline": "alphabetic", "color": "black"},
 "encoding": {"x": {"datum": 9.299}, "y": {"datum": 35.14}}},
{"data": {"values": [{}]}, "mark": {"type": "text", "text": "kyrs", "font": "Liberation Serif", "fontStyle": "italic", "fontSize": 33, "align": "left", "baseline": "alphabetic", "color": "black"},
 "encoding": {"x": {"datum": 9.803}, "y": {"datum": 35.14}}},
{"data": {"values": [{}]}, "mark": {"type": "text", "text": "δ¹⁸O", "font": "Liberation Serif", "fontSize": 42, "angle": 270, "align": "center", "baseline": "middle", "color": "black"},
 "encoding": {"x": {"datum": -0.418}, "y": {"datum": 27.07}}},
{"data": {"values": [{}]}, "mark": {"type": "text", "text": "20", "font": "Liberation Serif", "fontSize": 45, "align": "right", "baseline": "middle", "color": "black"},
 "encoding": {"x": {"datum": -0.0615}, "y": {"datum": 20}}},
{"data": {"values": [{}]}, "mark": {"type": "text", "text": "0", "font": "Liberation Serif", "fontSize": 45, "align": "right", "baseline": "middle", "color": "black"},
 "encoding": {"x": {"datum": -0.172}, "y": {"datum": 0.571}}},
{"data": {"values": [{}]}, "mark": {"type": "text", "text": "30-40", "font": "Liberation Sans", "fontSize": 34, "align": "left", "baseline": "alphabetic", "color": "black"},
 "encoding": {"x": {"datum": 10.148}, "y": {"datum": 27.57}}},
{"data": {"values": [{}]}, "mark": {"type": "text", "text": "kyrs", "font": "Liberation Sans", "fontStyle": "italic", "fontSize": 34, "align": "left", "baseline": "alphabetic", "color": "black"},
 "encoding": {"x": {"datum": 11.218}, "y": {"datum": 27.57}}},
{"data": {"values": [{}]}, "mark": {"type": "text", "text": "20-30", "font": "Liberation Sans", "fontSize": 34, "align": "left", "baseline": "alphabetic", "color": "black"},
 "encoding": {"x": {"datum": 10.148}, "y": {"datum": 16.93}}},
{"data": {"values": [{}]}, "mark": {"type": "text", "text": "kyrs", "font": "Liberation Sans", "fontStyle": "italic", "fontSize": 34, "align": "left", "baseline": "alphabetic", "color": "black"},
 "encoding": {"x": {"datum": 11.218}, "y": {"datum": 16.93}}},
{"data": {"values": [{}]}, "mark": {"type": "text", "text": "10-20", "font": "Liberation Sans", "fontSize": 34, "align": "left", "baseline": "alphabetic", "color": "black"},
 "encoding": {"x": {"datum": 10.16}, "y": {"datum": 7.21}}},
{"data": {"values": [{}]}, "mark": {"type": "text", "text": "kyrs", "font": "Liberation Sans", "fontStyle": "italic", "fontSize": 34, "align": "left", "baseline": "alphabetic", "color": "black"},
 "encoding": {"x": {"datum": 11.23}, "y": {"datum": 7.21}}},
{"data": {"values": [{}]}, "mark": {"type": "text", "text": "0-10", "font": "Liberation Sans", "fontSize": 34, "align": "left", "baseline": "alphabetic", "color": "black"},
 "encoding": {"x": {"datum": 10.308}, "y": {"datum": 3.857}}},
{"data": {"values": [{}]}, "mark": {"type": "text", "text": "kyrs", "font": "Liberation Sans", "fontStyle": "italic", "fontSize": 34, "align": "left", "baseline": "alphabetic", "color": "black"},
 "encoding": {"x": {"datum": 11.144}, "y": {"datum": 3.857}}},
{"data": {"values": [{}]}, "mark": {"type": "text", "text": "0-11", "font": "Liberation Sans", "fontSize": 34, "align": "left", "baseline": "alphabetic", "color": "black"},
 "encoding": {"x": {"datum": 10.308}, "y": {"datum": -14.0}}},
{"data": {"values": [{}]}, "mark": {"type": "text", "text": "kyrs", "font": "Liberation Sans", "fontStyle": "italic", "fontSize": 34, "align": "left", "baseline": "alphabetic", "color": "black"},
 "encoding": {"x": {"datum": 11.144}, "y": {"datum": -14.0}}},
{"data": {"values": [{}]}, "mark": {"type": "text", "text": "SST Holocene (ocean core LO09-14, 1500 km distant)", "font": "Liberation Sans", "fontSize": 26, "align": "left", "baseline": "alphabetic", "color": "black"},
 "encoding": {"x": {"datum": 2.091}, "y": {"datum": -2.0}}},
{"data": {"values": [{}]}, "mark": {"type": "text", "text": "≈5K", "font": "Liberation Sans", "fontSize": 26, "align": "center", "baseline": "alphabetic", "color": "#ee3b2b"},
 "encoding": {"x": {"datum": -0.492}, "y": {"datum": 6.14}}},
{"data": {"values": [{}]}, "mark": {"type": "text", "text": "5K", "font": "Liberation Sans", "fontSize": 33, "align": "left", "baseline": "alphabetic", "color": "#ee3b2b"},
 "encoding": {"x": {"datum": 11.439}, "y": {"datum": -5.64}}}
]
},
{"data": {"name": "sst"}, "mark": {"type": "line", "color": "#4b55a6", "strokeWidth": 2.4},
 "encoding": {"x": {"field": "t", "type": "quantitative", "scale": {"domain": [-0.9471, 12.214], "nice": false, "zero": false}, "axis": null},
  "y": {"field": "k", "type": "quantitative", "scale": {"domain": [-7.183, 19.683], "nice": false, "zero": false}, "axis": null}}}
],
"resolve": {"scale": {"y": "independent"}}
}
